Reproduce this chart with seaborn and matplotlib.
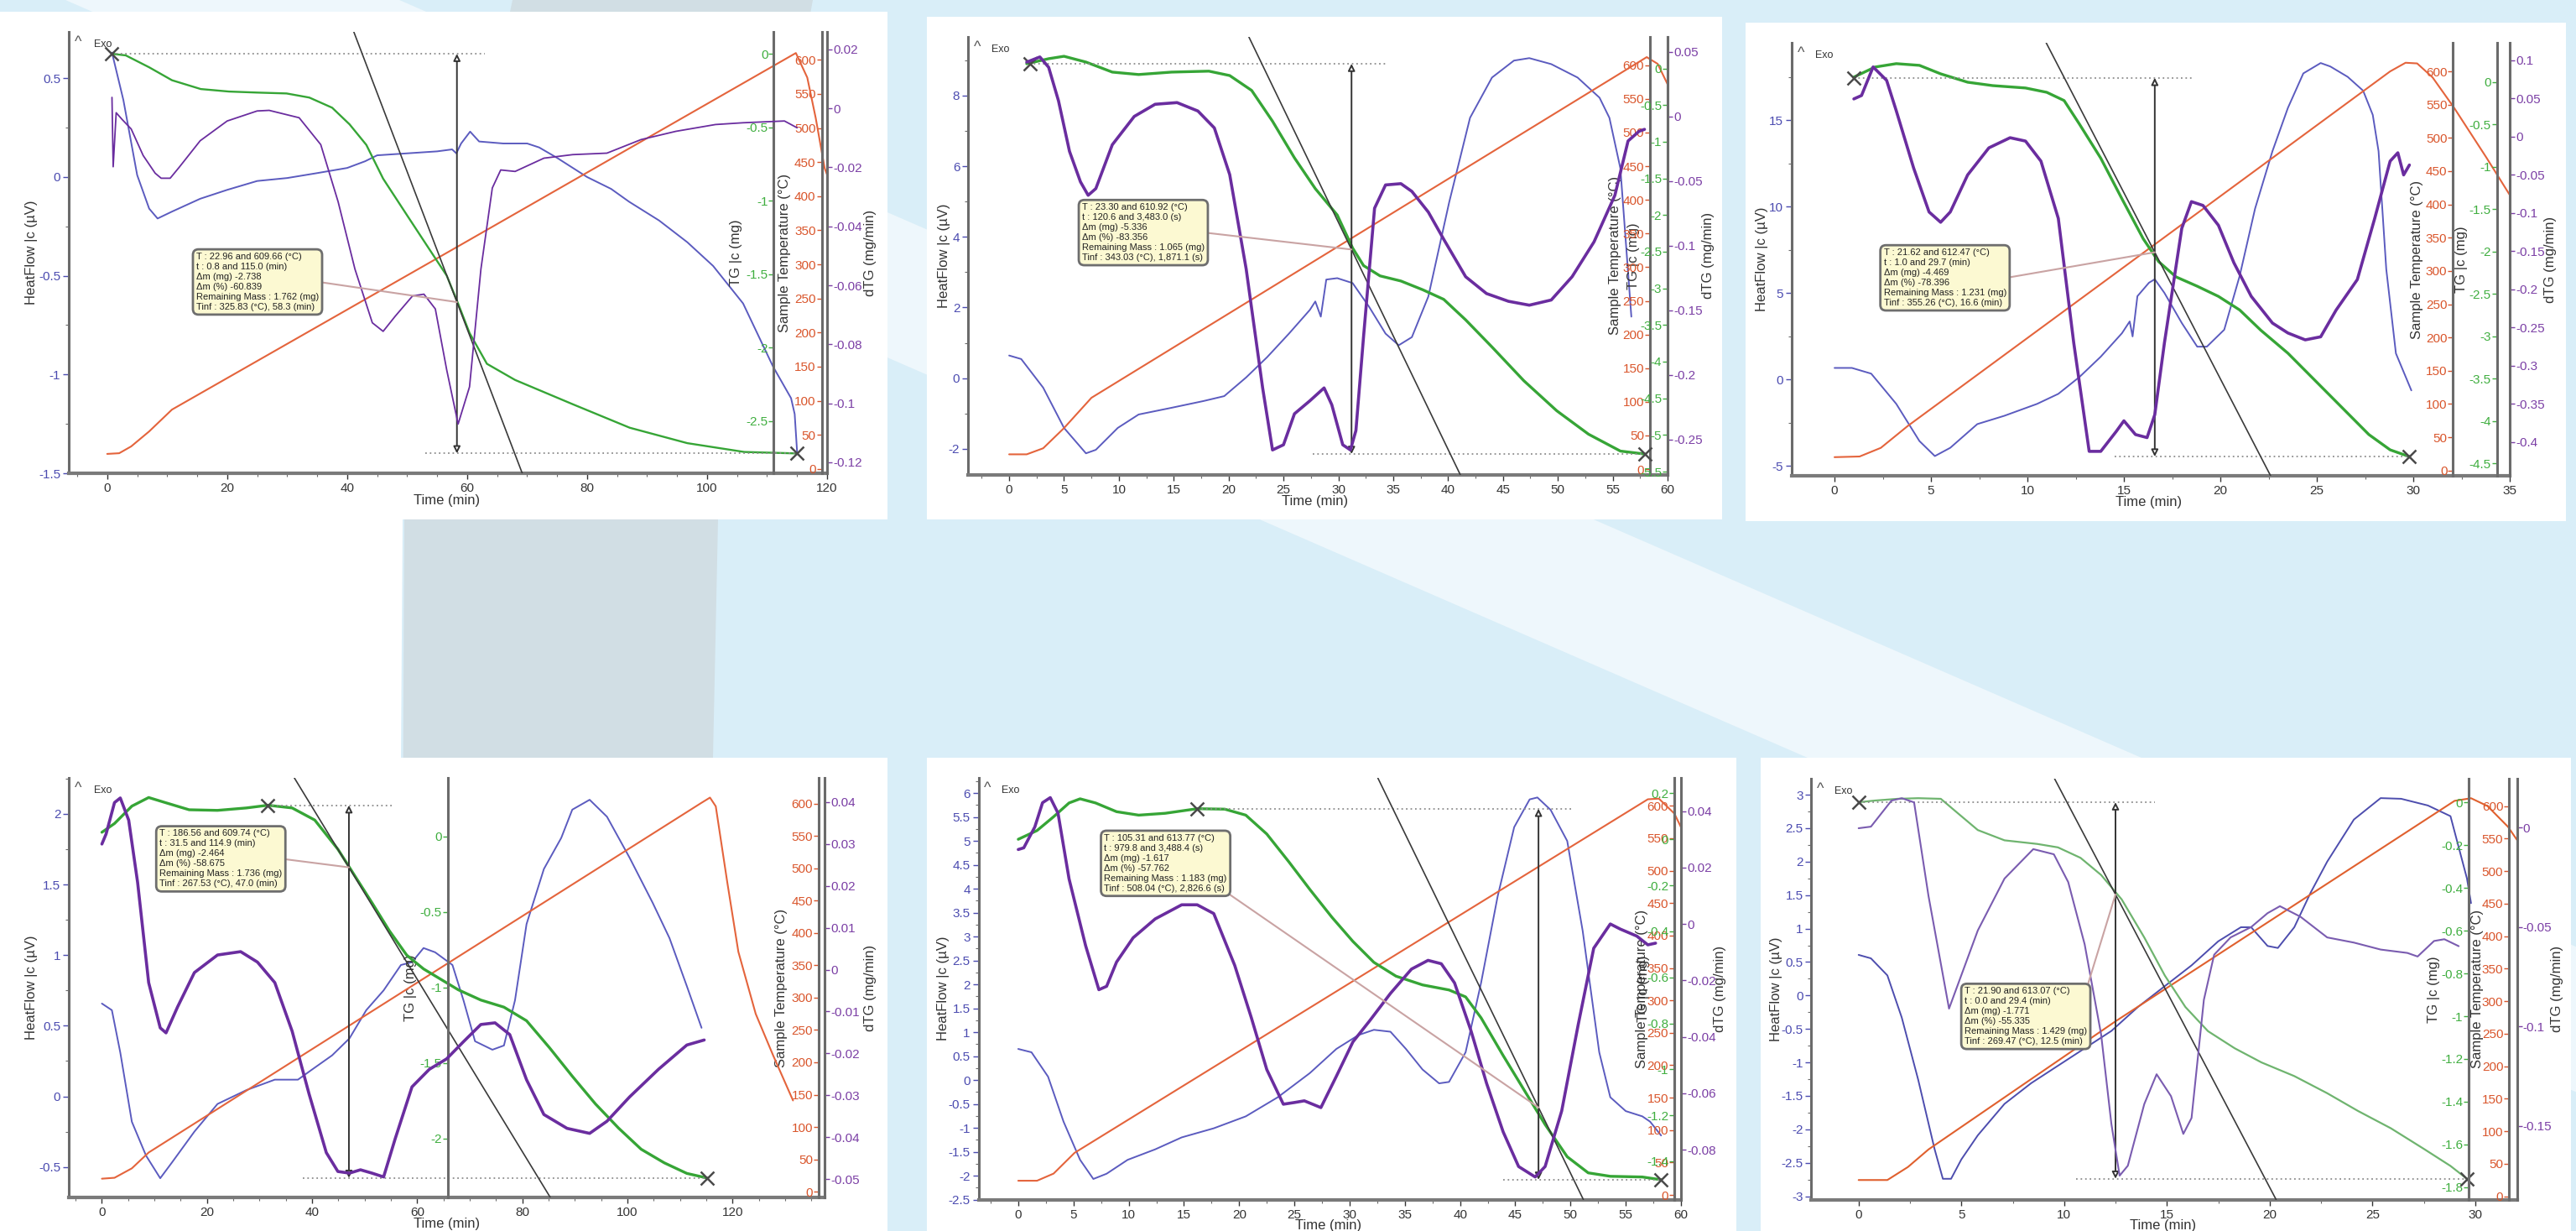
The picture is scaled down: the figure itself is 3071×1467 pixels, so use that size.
import numpy as np
import matplotlib.pyplot as plt
import seaborn as sns
from matplotlib.patches import Rectangle, Polygon
from matplotlib.ticker import AutoMinorLocator
from matplotlib.transforms import blended_transform_factory

sns.set_theme(style="white")
plt.rcParams['font.family'] = ['Liberation Sans', 'DejaVu Sans']
plt.rcParams['axes.unicode_minus'] = False

W, H = 3071, 1467

# ---------------------------------------------------------------------------
# Data: (time [min], value) pairs
# ---------------------------------------------------------------------------
temp_ticks = [0, 50, 100, 150, 200, 250, 300, 350, 400, 450, 500, 550, 600]

# panel 1
p1_heatflow = [(0.8, 0.63), (2.7, 0.39), (5, 0.01), (7, -0.16), (8.4, -0.21), (10.8, -0.175), (15.5, -0.11),
               (20, -0.065), (25, -0.02), (30, -0.005), (35, 0.02), (40, 0.046), (43, 0.08), (45, 0.11),
               (50, 0.12), (55, 0.13), (57.5, 0.14), (58.2, 0.12), (59, 0.17), (60.5, 0.23), (62, 0.18),
               (66, 0.17), (70, 0.17), (72, 0.15), (75, 0.097), (80, 0.0), (84, -0.06), (87, -0.125),
               (92, -0.22), (96.7, -0.33), (101, -0.45), (106, -0.64), (111, -0.96), (114, -1.12),
               (114.6, -1.2), (115, -1.39)]
p1_dtg = [(0.8, 0.0037), (1.0, -0.0198), (1.5, -0.0015), (2.5, -0.0038), (4, -0.007), (6, -0.016), (8, -0.022),
          (9, -0.0237), (10.5, -0.0237), (12, -0.02), (15.5, -0.011), (20, -0.0043), (25, -0.0009), (27, -0.0007),
          (32, -0.0032), (35.6, -0.0123), (38.5, -0.0317), (41.3, -0.0545), (44.2, -0.0727), (46, -0.0756),
          (48, -0.0705), (50.9, -0.0636), (52.8, -0.063), (54.7, -0.068), (56.6, -0.0887), (58.5, -0.107),
          (60.4, -0.0944), (62.3, -0.0545), (64.2, -0.027), (65.6, -0.0209), (68, -0.0214), (72.8, -0.0169),
          (77.6, -0.0157), (83.3, -0.0152), (89, -0.0106), (94.8, -0.0078), (101.4, -0.0055), (106, -0.0049),
          (112.9, -0.0043), (115, -0.0066)]
p1_tg = [(0.8, 0.0), (3.1, -0.011), (7, -0.092), (10.8, -0.18), (15.6, -0.24), (20.3, -0.257), (25, -0.264),
         (29.9, -0.27), (33.7, -0.298), (37.5, -0.367), (40.4, -0.48), (43.2, -0.62), (46, -0.85), (50, -1.10),
         (53.7, -1.33), (56.6, -1.51), (58.5, -1.70), (60.4, -1.90), (63.3, -2.11), (68, -2.22), (77.6, -2.385),
         (87.1, -2.545), (96.7, -2.65), (106.2, -2.71), (115, -2.72)]
p1_temp = [(0, 22), (2, 23), (4, 33), (7, 55), (10.8, 87), (60, 334), (114.8, 610), (116.7, 574), (118.1, 515),
           (119.6, 441), (120.5, 420)]
p1_box = ["T : 22.96 and 609.66 (°C)", "t : 0.8 and 115.0 (min)", "Δm (mg) -2.738", "Δm (%) -60.839",
          "Remaining Mass : 1.762 (mg)", "Tinf : 325.83 (°C), 58.3 (min)"]
p1_marks = [(0.8, 0.0), (115.0, -2.72)]
p1_guides = [(0.8, 63.0), (53.0, 115.0)]
p1_inflection = (58.3, -1.69, -0.107)
p1_hf_ticks = [-1.5, -1, -0.5, 0, 0.5]
p1_tg_ticks = [-2.5, -2, -1.5, -1, -0.5, 0]
p1_dtg_ticks = [-0.12, -0.1, -0.08, -0.06, -0.04, -0.02, 0, 0.02]
p1_time_ticks = [0, 20, 40, 60, 80, 100, 120]

# panel 2
p2_heatflow = [(0, 0.64), (1.1, 0.54), (3.1, -0.27), (5, -1.41), (7, -2.13), (7.9, -2.03), (9.9, -1.41),
               (11.8, -1.03), (14.8, -0.84), (17.7, -0.65), (19.6, -0.51), (21.6, 0.02), (23.5, 0.59),
               (25.5, 1.26), (27.4, 1.93), (27.9, 2.17), (28.4, 1.74), (28.9, 2.79), (29.9, 2.83), (31.3, 2.69),
               (32.8, 2.02), (34.3, 1.26), (35.5, 0.93), (36.7, 1.16), (38.2, 2.31), (40.1, 4.98), (42, 7.37),
               (44, 8.51), (46, 8.99), (47.4, 9.06), (49.4, 8.89), (51.8, 8.51), (53.8, 7.94), (54.7, 7.37),
               (55.7, 5.94), (56.7, 1.74)]
p2_dtg = [(1.6, 0.042), (2.8, 0.046), (3.6, 0.038), (4.5, 0.012), (5.5, -0.027), (6.5, -0.0506), (7.2, -0.061),
          (7.9, -0.0558), (9.4, -0.0219), (11.4, 0.0), (13.3, 0.0094), (15.3, 0.0107), (17.2, 0.0042),
          (18.7, -0.0089), (20.1, -0.045), (21.6, -0.118), (23.1, -0.21), (24, -0.258), (25, -0.254),
          (26, -0.23), (27.4, -0.22), (28.7, -0.21), (29.4, -0.223), (30.4, -0.254), (31.1, -0.258),
          (31.6, -0.243), (32.3, -0.17), (33.3, -0.071), (34.3, -0.053), (35.7, -0.052), (36.7, -0.058),
          (38.2, -0.074), (39.6, -0.095), (41.6, -0.124), (43.5, -0.137), (45.5, -0.143), (47.4, -0.146),
          (49.4, -0.142), (51.3, -0.124), (53.3, -0.097), (55.2, -0.061), (56.4, -0.019), (57.4, -0.0115),
          (57.9, -0.010)]
p2_tg = [(1.6, 0.064), (3.6, 0.133), (5, 0.166), (7, 0.087), (9.4, -0.05), (11.8, -0.083), (14.8, -0.05),
         (18.2, -0.037), (20.1, -0.097), (22.1, -0.30), (24, -0.72), (26, -1.22), (27.9, -1.64), (29.9, -2.0),
         (31.3, -2.45), (32.3, -2.69), (33.8, -2.83), (35.7, -2.90), (37.7, -3.02), (39.6, -3.15), (41.6, -3.43),
         (44, -3.80), (46.9, -4.26), (49.9, -4.67), (52.8, -4.99), (55.7, -5.22), (57.9, -5.26)]
p2_temp = [(0, 22), (1.6, 22), (3.1, 31), (5, 61), (7.5, 106), (58.1, 612), (59.1, 602), (60.2, 565)]
p2_box = ["T : 23.30 and 610.92 (°C)", "t : 120.6 and 3,483.0 (s)", "Δm (mg) -5.336", "Δm (%) -83.356",
          "Remaining Mass : 1.065 (mg)", "Tinf : 343.03 (°C), 1,871.1 (s)"]
p2_marks = [(1.9, 0.064), (57.9, -5.26)]
p2_guides = [(1.85, 34.5), (27.7, 57.9)]
p2_inflection = (31.2, -2.47, -0.31)
p2_hf_ticks = [-2, 0, 2, 4, 6, 8]
p2_tg_ticks = [-5.5, -5, -4.5, -4, -3.5, -3, -2.5, -2, -1.5, -1, -0.5, 0]
p2_dtg_ticks = [-0.25, -0.2, -0.15, -0.1, -0.05, 0, 0.05]
p2_time_ticks = [0, 5, 10, 15, 20, 25, 30, 35, 40, 45, 50, 55, 60]

# panel 3
p3_heatflow = [(0, 0.66), (0.9, 0.66), (1.9, 0.33), (3.2, -1.42), (4.4, -3.57), (5.2, -4.44), (6, -3.96),
               (7.4, -2.59), (8.8, -2.11), (10.5, -1.42), (11.6, -0.84), (12.7, 0.14), (13.8, 1.31), (14.9, 2.67),
               (15.3, 3.35), (15.45, 2.48), (15.7, 4.81), (16.3, 5.59), (16.6, 5.79), (17.1, 5.0), (18, 3.26),
               (18.8, 1.89), (19.3, 1.89), (20.2, 2.87), (21, 5.98), (21.8, 9.88), (22.7, 13.2), (23.5, 15.7),
               (24.3, 17.7), (25.2, 18.3), (25.7, 18.1), (26.6, 17.5), (27.4, 16.7), (27.9, 15.3), (28.2, 13.2),
               (28.6, 6.37), (29.1, 1.5), (29.9, -0.64)]
p3_dtg = [(1.0, 0.0495), (1.4, 0.054), (2.0, 0.0914), (2.7, 0.0738), (3.2, 0.034), (4.1, -0.041), (4.9, -0.0985),
          (5.5, -0.112), (6.0, -0.0985), (6.9, -0.050), (8.0, -0.0146), (9.1, -0.0013), (9.9, -0.0057),
          (10.7, -0.032), (11.6, -0.107), (12.4, -0.27), (13.2, -0.412), (13.8, -0.412), (14.6, -0.386),
          (15.0, -0.372), (15.6, -0.39), (16.2, -0.394), (16.6, -0.364), (17.1, -0.27), (18.0, -0.12),
          (18.5, -0.085), (19.1, -0.09), (19.9, -0.116), (20.7, -0.165), (21.6, -0.209), (22.7, -0.244),
          (23.5, -0.257), (24.4, -0.266), (25.2, -0.262), (26.0, -0.227), (27.1, -0.187), (28.0, -0.107),
          (28.8, -0.032), (29.2, -0.021), (29.5, -0.05), (29.8, -0.037)]
p3_tg = [(1.0, 0.056), (2.1, 0.175), (3.2, 0.215), (4.4, 0.195), (5.5, 0.095), (6.9, -0.004), (8.2, -0.044),
         (9.9, -0.072), (11.0, -0.123), (11.9, -0.22), (12.7, -0.50), (13.8, -0.90), (14.9, -1.38), (16.0, -1.85),
         (16.8, -2.12), (17.7, -2.30), (18.8, -2.41), (19.9, -2.53), (21.0, -2.69), (22.1, -2.93), (23.5, -3.2),
         (24.9, -3.52), (26.3, -3.84), (27.7, -4.16), (28.8, -4.34), (29.8, -4.42)]
p3_temp = [(0, 20), (1.3, 21), (2.4, 34), (3.8, 67), (28.8, 600), (29.6, 613), (30.2, 612), (31.0, 591),
           (32.1, 546), (33.8, 470), (35.2, 405)]
p3_box = ["T : 21.62 and 612.47 (°C)", "t : 1.0 and 29.7 (min)", "Δm (mg) -4.469", "Δm (%) -78.396",
          "Remaining Mass : 1.231 (mg)", "Tinf : 355.26 (°C), 16.6 (min)"]
p3_marks = [(1.0, 0.048), (29.8, -4.42)]
p3_guides = [(1.0, 18.5), (14.5, 29.8)]
p3_inflection = (16.6, -2.01, -0.439)
p3_hf_ticks = [-5, 0, 5, 10, 15]
p3_tg_ticks = [-4.5, -4, -3.5, -3, -2.5, -2, -1.5, -1, -0.5, 0]
p3_dtg_ticks = [-0.4, -0.35, -0.3, -0.25, -0.2, -0.15, -0.1, -0.05, 0, 0.05, 0.1]
p3_time_ticks = [0, 5, 10, 15, 20, 25, 30, 35]

# panel 4
p4_heatflow = [(0, 0.657), (1.9, 0.61), (3.5, 0.31), (5.7, -0.18), (8.4, -0.42), (11.1, -0.58), (13.3, -0.47),
               (17.6, -0.25), (22, -0.054), (27.5, 0.044), (32.9, 0.118), (37.3, 0.118), (40, 0.19),
               (43.8, 0.29), (47.1, 0.41), (50.3, 0.61), (53.6, 0.75), (56.9, 0.93), (59, 0.95), (61.2, 1.05),
               (63.4, 1.02), (66.7, 0.93), (68.8, 0.68), (71, 0.39), (74.3, 0.33), (76.5, 0.36), (78.6, 0.68),
               (80.8, 1.22), (84.1, 1.61), (87.4, 1.83), (89.5, 2.03), (92.8, 2.10), (96.1, 1.98), (100.4, 1.69),
               (104.8, 1.37), (108, 1.12), (111.3, 0.78), (114.1, 0.485)]
p4_dtg = [(0, 0.030), (0.8, 0.0324), (2.4, 0.0399), (3.5, 0.041), (5.1, 0.0357), (6.8, 0.0208), (8.9, -0.0031),
          (11.1, -0.0139), (12.2, -0.0151), (14.4, -0.0089), (17.6, -0.0007), (22, 0.0035), (26.4, 0.0043),
          (29.6, 0.0018), (32.9, -0.0031), (36.2, -0.0147), (39.4, -0.0296), (42.7, -0.0437), (44.9, -0.0482),
          (47.1, -0.0486), (49.2, -0.0478), (51.4, -0.0486), (53.6, -0.0495), (55.8, -0.0404), (59, -0.028),
          (62.3, -0.0238), (65.6, -0.0213), (68.8, -0.0172), (72.1, -0.0131), (74.8, -0.0127), (77.6, -0.0155),
          (80.8, -0.0263), (84.1, -0.0346), (88.5, -0.0379), (92.8, -0.0391), (96.1, -0.0362), (100.4, -0.0304),
          (105.9, -0.0238), (111.3, -0.018), (114.6, -0.0168)]
p4_tg = [(0, 0.027), (2.4, 0.085), (5.7, 0.2), (8.9, 0.257), (12.2, 0.222), (16.6, 0.176), (22, 0.172),
         (27.5, 0.188), (31.6, 0.206), (36.2, 0.188), (40.5, 0.108), (44.9, -0.085), (47.1, -0.205),
         (48.1, -0.26), (51.4, -0.44), (54.7, -0.625), (58, -0.786), (61.2, -0.877), (64.5, -0.946),
         (67.8, -1.015), (72.1, -1.083), (76.5, -1.13), (80.8, -1.22), (85.2, -1.40), (89.5, -1.587),
         (93.9, -1.77), (98.3, -1.93), (102.6, -2.07), (107, -2.16), (111.3, -2.23), (115.1, -2.26)]
p4_temp = [(0, 20), (2.4, 21.4), (5.7, 36), (8.9, 60.5), (114, 601), (115.7, 609.5), (116.8, 596), (119, 478),
           (121.1, 371), (124.4, 275), (127.7, 211), (131.5, 141)]
p4_box = ["T : 186.56 and 609.74 (°C)", "t : 31.5 and 114.9 (min)", "Δm (mg) -2.464", "Δm (%) -58.675",
          "Remaining Mass : 1.736 (mg)", "Tinf : 267.53 (°C), 47.0 (min)"]
p4_marks = [(31.6, 0.206), (115.1, -2.26)]
p4_guides = [(31.6, 55.2), (38.3, 115.1)]
p4_inflection = (47.0, -0.205, -0.057)
p4_hf_ticks = [-0.5, 0, 0.5, 1, 1.5, 2]
p4_tg_ticks = [-2, -1.5, -1, -0.5, 0]
p4_dtg_ticks = [-0.05, -0.04, -0.03, -0.02, -0.01, 0, 0.01, 0.02, 0.03, 0.04]
p4_time_ticks = [0, 20, 40, 60, 80, 100, 120]

# panel 5
p5_heatflow = [(0, 0.65), (1.2, 0.58), (2.7, 0.07), (4.1, -0.87), (5.6, -1.67), (6.8, -2.07), (8, -1.96),
               (9.9, -1.67), (12.4, -1.45), (14.8, -1.2), (17.7, -1.01), (20.6, -0.76), (23.5, -0.36),
               (26.4, 0.145), (28.8, 0.65), (30.8, 0.94), (32.2, 1.05), (33.7, 1.01), (35.1, 0.65), (36.6, 0.22),
               (38.1, -0.07), (39, -0.04), (40.5, 0.58), (41.9, 2.03), (43.4, 3.84), (44.9, 5.29), (46.3, 5.87),
               (47, 5.91), (48.2, 5.65), (49.7, 5.0), (51.1, 3.12), (52.6, 0.58), (53.6, -0.36), (55, -0.65),
               (56.5, -0.76), (57.2, -0.87), (58.2, -1.16)]
p5_dtg = [(0, 0.0264), (0.5, 0.027), (1.5, 0.0344), (2.2, 0.043), (2.9, 0.0448), (3.6, 0.0393), (4.6, 0.016),
          (6.1, -0.0077), (7.3, -0.0233), (8, -0.0221), (8.9, -0.0135), (10.4, -0.0049), (12.4, 0.0018),
          (14.8, 0.0068), (16.2, 0.0068), (17.7, 0.0037), (19.6, -0.0147), (21.1, -0.0332), (22.5, -0.0516),
          (24, -0.0639), (25, -0.0633), (25.9, -0.0627), (27.4, -0.0651), (28.8, -0.054), (30.3, -0.0418),
          (31.8, -0.0344), (33.7, -0.0246), (35.6, -0.016), (37.1, -0.0129), (38.3, -0.0141), (39.5, -0.0209),
          (41, -0.038), (42.4, -0.0565), (43.9, -0.0737), (45.3, -0.086), (46.8, -0.0897), (47.7, -0.086),
          (49.2, -0.0663), (50.7, -0.0356), (52.1, -0.0086), (53.6, 0.0), (54.5, -0.0018), (56, -0.0043),
          (57, -0.0074), (57.7, -0.0068)]
p5_tg = [(0, 0.0), (1.7, 0.038), (3.2, 0.098), (4.6, 0.158), (5.6, 0.176), (7, 0.158), (8.9, 0.12),
         (10.9, 0.105), (13.3, 0.113), (16.2, 0.133), (18.7, 0.131), (20.6, 0.105), (22.5, 0.023),
         (24.5, -0.098), (26.4, -0.218), (28.4, -0.339), (30.3, -0.444), (32.2, -0.535), (34.2, -0.595),
         (36.6, -0.633), (39, -0.655), (40.5, -0.685), (41.9, -0.776), (43.9, -0.94), (45.8, -1.09),
         (47.7, -1.24), (49.7, -1.38), (51.6, -1.45), (53.6, -1.465), (56.5, -1.468), (58.2, -1.48)]
p5_temp = [(0, 22), (1.7, 22), (3.2, 33), (5.1, 65), (57, 610), (58, 611), (59.4, 588), (60.2, 560)]
p5_box = ["T : 105.31 and 613.77 (°C)", "t : 979.8 and 3,488.4 (s)", "Δm (mg) -1.617", "Δm (%) -57.762",
          "Remaining Mass : 1.183 (mg)", "Tinf : 508.04 (°C), 2,826.6 (s)"]
p5_marks = [(16.2, 0.133), (58.2, -1.48)]
p5_guides = [(16.2, 50.2), (43.9, 58.2)]
p5_inflection = (47.1, -1.166, -0.0985)
p5_hf_ticks = [-2.5, -2, -1.5, -1, -0.5, 0, 0.5, 1, 1.5, 2, 2.5, 3, 3.5, 4, 4.5, 5, 5.5, 6]
p5_tg_ticks = [-1.4, -1.2, -1, -0.8, -0.6, -0.4, -0.2, 0, 0.2]
p5_dtg_ticks = [-0.08, -0.06, -0.04, -0.02, 0, 0.02, 0.04]
p5_time_ticks = [0, 5, 10, 15, 20, 25, 30, 35, 40, 45, 50, 55, 60]

# panel 6
p6_heatflow = [(0, 0.607), (0.6, 0.555), (1.4, 0.30), (2.1, -0.33), (2.9, -1.26), (3.7, -2.30), (4.1, -2.74),
               (4.5, -2.74), (5, -2.45), (5.8, -2.09), (7.1, -1.62), (8.4, -1.31), (9.7, -1.05), (11, -0.79),
               (12.3, -0.53), (13.6, -0.17), (14.9, 0.14), (16.2, 0.45), (17.5, 0.81), (18.6, 1.02), (19.1, 1.02),
               (19.9, 0.74), (20.4, 0.71), (21.2, 1.02), (22, 1.54), (22.8, 2.0), (24.1, 2.63), (25.4, 2.95),
               (26.4, 2.94), (27.7, 2.84), (28.8, 2.68), (29.6, 1.75), (29.8, 1.38)]
p6_dtg = [(0, -0.0003), (0.6, 0.0005), (1.6, 0.0136), (2.1, 0.0148), (2.7, 0.0127), (3.4, -0.0343),
          (4.4, -0.091), (5.8, -0.0517), (7.1, -0.0256), (8.5, -0.0108), (9.5, -0.0134), (10.2, -0.0274),
          (11, -0.0587), (11.8, -0.104), (12.3, -0.149), (12.7, -0.175), (13.1, -0.170), (13.9, -0.139),
          (14.5, -0.124), (15.2, -0.135), (15.8, -0.154), (16.2, -0.146), (16.8, -0.0866), (17.3, -0.0639),
          (18.1, -0.0552), (19.1, -0.05), (19.9, -0.043), (20.5, -0.0395), (21.5, -0.0448), (22.8, -0.0552),
          (24.1, -0.0578), (25.4, -0.0613), (26.7, -0.063), (27.2, -0.0648), (28, -0.057), (28.5, -0.0561),
          (29.2, -0.0596)]
p6_tg = [(0, 0.0), (0.8, 0.008), (1.9, 0.016), (2.9, 0.019), (4, 0.016), (4.8, -0.049), (5.8, -0.13),
         (7.1, -0.178), (8.7, -0.195), (9.7, -0.211), (10.8, -0.26), (11.8, -0.34), (12.8, -0.454),
         (13.9, -0.632), (14.9, -0.81), (15.9, -0.957), (17, -1.07), (18.3, -1.15), (19.6, -1.216),
         (21.2, -1.28), (22.8, -1.36), (24.3, -1.443), (25.9, -1.524), (27.5, -1.62), (28.8, -1.70), (29.6, -1.76)]
p6_temp = [(0, 25), (1.4, 25), (2.4, 45), (3.4, 72), (12.5, 269), (29, 608), (29.8, 612), (30.6, 600),
           (31.6, 568), (32.1, 545)]
p6_box = ["T : 21.90 and 613.07 (°C)", "t : 0.0 and 29.4 (min)", "Δm (mg) -1.771", "Δm (%) -55.335",
          "Remaining Mass : 1.429 (mg)", "Tinf : 269.47 (°C), 12.5 (min)"]
p6_marks = [(0.0, 0.0), (29.6, -1.76)]
p6_guides = [(0.0, 14.4), (10.6, 29.6)]
p6_inflection = (12.5, -0.431, -0.1825)
p6_hf_ticks = [-3, -2.5, -2, -1.5, -1, -0.5, 0, 0.5, 1, 1.5, 2, 2.5, 3]
p6_tg_ticks = [-1.8, -1.6, -1.4, -1.2, -1, -0.8, -0.6, -0.4, -0.2, 0]
p6_dtg_ticks = [-0.15, -0.1, -0.05, 0]
p6_time_ticks = [0, 5, 10, 15, 20, 25, 30]

# ---------------------------------------------------------------------------
# Styling / layout (pixels of the 3071 x 1467 canvas)
# ---------------------------------------------------------------------------
SPINE = '#6b6b6b'
TICK_COL = dict(hf='#4b4bb0', tg='#3fae3f', temp='#d9552b', dtg='#7b3fa5')
LINE_COL = dict(hf='#5b5bbf', dtg='#6a2d9f', tg='#36a536', temp='#e4643c')
LINE_COL6 = dict(hf='#4d4dae', dtg='#7a5cb0', tg='#6fb46f', temp='#e0602e')

PANELS = [
    dict(white=(0, 14, 1058, 619), axes=(82, 38, 986, 564), xlim=(-6.4, 120),
         hf=p1_heatflow, dtg=p1_dtg, tg=p1_tg, temp=p1_temp,
         hf_lim=(-1.5, 0.735), temp_lim=(-6.4, 641), tg_lim=(-2.855, 0.149), dtg_lim=(-0.1237, 0.0259),
         hf_ticks=p1_hf_ticks, tg_ticks=p1_tg_ticks, dtg_ticks=p1_dtg_ticks, time_ticks=p1_time_ticks, minor=4,
         tg_sp=(111.1, 'left'), temp_sp=(119.1, 'left'), dtg_sp=(120, 'right'),
         lab=dict(hf=-12.6, tg=104.8, temp=112.9, dtg=127.2, time=56.6),
         box=p1_box, box_xy=(0.168, 0.50), relpos=(1, 0.5),
         marks=p1_marks, guides=p1_guides, infl=p1_inflection,
         lw=dict(hf=1.4, dtg=1.3, tg=1.7, temp=1.5), col=LINE_COL),
    dict(white=(1105, 20, 2053, 619), axes=(1154, 44, 1988, 565.5), xlim=(-3.75, 60),
         hf=p2_heatflow, dtg=p2_dtg, tg=p2_tg, temp=p2_temp,
         hf_lim=(-2.73, 9.66), temp_lim=(-8, 642), tg_lim=(-5.54, 0.43), dtg_lim=(-0.277, 0.0615),
         hf_ticks=p2_hf_ticks, tg_ticks=p2_tg_ticks, dtg_ticks=p2_dtg_ticks, time_ticks=p2_time_ticks, minor=2,
         tg_sp=(60, 'left'), temp_sp=(58.4, 'left'), dtg_sp=(60, 'right'),
         lab=dict(hf=-5.9, tg=56.9, temp=55.2, dtg=63.7, time=27.9),
         box=p2_box, box_xy=(0.163, 0.62), relpos=(1, 0.5),
         marks=p2_marks, guides=p2_guides, infl=p2_inflection,
         lw=dict(hf=1.4, dtg=2.6, tg=2.4, temp=1.5), col=LINE_COL),
    dict(white=(2081, 27, 3059, 621), axes=(2136, 51, 2992, 567), xlim=(-2.22, 35),
         hf=p3_heatflow, dtg=p3_dtg, tg=p3_tg, temp=p3_temp,
         hf_lim=(-5.58, 19.47), temp_lim=(-8, 643), tg_lim=(-4.646, 0.461), dtg_lim=(-0.444, 0.123),
         hf_ticks=p3_hf_ticks, tg_ticks=p3_tg_ticks, dtg_ticks=p3_dtg_ticks, time_ticks=p3_time_ticks, minor=2,
         tg_sp=(34.33, 'left'), temp_sp=(32.06, 'left'), dtg_sp=(35, 'right'),
         lab=dict(hf=-3.75, tg=32.5, temp=30.2, dtg=37.1, time=16.3),
         box=p3_box, box_xy=(0.128, 0.525), relpos=(1, 0.5),
         marks=p3_marks, guides=p3_guides, infl=p3_inflection,
         lw=dict(hf=1.4, dtg=2.6, tg=2.4, temp=1.5), col=LINE_COL),
    dict(white=(0, 903, 1058, 1467), axes=(82, 927, 983, 1427), xlim=(-6.3, 137.5),
         hf=p4_heatflow, dtg=p4_dtg, tg=p4_tg, temp=p4_temp,
         hf_lim=(-0.716, 2.255), temp_lim=(-9, 640), tg_lim=(-2.389, 0.387), dtg_lim=(-0.0544, 0.0458),
         hf_ticks=p4_hf_ticks, tg_ticks=p4_tg_ticks, dtg_ticks=p4_dtg_ticks, time_ticks=p4_time_ticks, minor=4,
         tg_sp=(65.8, 'left'), temp_sp=(136.4, 'left'), dtg_sp=(137.5, 'right'),
         lab=dict(hf=-13.4, tg=58.8, temp=129.3, dtg=146.2, time=65.6),
         box=p4_box, box_xy=(0.12, 0.877), relpos=(1, 0.5),
         marks=p4_marks, guides=p4_guides, infl=p4_inflection,
         lw=dict(hf=1.4, dtg=2.6, tg=2.4, temp=1.5), col=LINE_COL),
    dict(white=(1105, 903, 2070, 1467), axes=(1166.5, 927, 2004, 1429.5), xlim=(-3.6, 60),
         hf=p5_heatflow, dtg=p5_dtg, tg=p5_tg, temp=p5_temp,
         hf_lim=(-2.5, 6.32), temp_lim=(-7, 643), tg_lim=(-1.566, 0.267), dtg_lim=(-0.0977, 0.0518),
         hf_ticks=p5_hf_ticks, tg_ticks=p5_tg_ticks, dtg_ticks=p5_dtg_ticks, time_ticks=p5_time_ticks, minor=2,
         tg_sp=(59.4, 'left'), temp_sp=(59.4, 'left'), dtg_sp=(60, 'right'),
         lab=dict(hf=-6.8, tg=56.6, temp=56.5, dtg=63.5, time=28.1),
         box=p5_box, box_xy=(0.179, 0.867), relpos=(1, 0),
         marks=p5_marks, guides=p5_guides, infl=p5_inflection,
         lw=dict(hf=1.4, dtg=2.6, tg=2.4, temp=1.5), col=LINE_COL),
    dict(white=(2099, 903, 3065, 1467), axes=(2159.4, 928, 3001, 1429.5), xlim=(-2.3, 32.05),
         hf=p6_heatflow, dtg=p6_dtg, tg=p6_tg, temp=p6_temp,
         hf_lim=(-3.05, 3.24), temp_lim=(-5, 642), tg_lim=(-1.857, 0.11), dtg_lim=(-0.187, 0.0246),
         hf_ticks=p6_hf_ticks, tg_ticks=p6_tg_ticks, dtg_ticks=p6_dtg_ticks, time_ticks=p6_time_ticks, minor=2,
         tg_sp=(29.69, 'left'), temp_sp=(31.65, 'left'), dtg_sp=(32.04, 'right'),
         lab=dict(hf=-4.0, tg=28.0, temp=30.1, dtg=34.0, time=14.8),
         box=p6_box, box_xy=(0.217, 0.505), relpos=(1, 1),
         marks=p6_marks, guides=p6_guides, infl=p6_inflection,
         lw=dict(hf=1.4, dtg=1.5, tg=1.6, temp=1.5), col=LINE_COL6),
]


def fmt(v):
    return '0' if v == 0 else f'{v:g}'


def curve(ax, pts, color, lw):
    t = np.array([p[0] for p in pts], dtype=float)
    v = np.array([p[1] for p in pts], dtype=float)
    sns.lineplot(x=t, y=v, ax=ax, color=color, linewidth=lw, sort=False, estimator=None)
    ax.set_xlabel('')
    ax.set_ylabel('')


def side_axis(twin, lim, ticks, spine, color):
    pos, side = spine
    twin.set_ylim(*lim)
    for s in twin.spines.values():
        s.set_visible(False)
    sp = twin.spines[side]
    sp.set_visible(True)
    sp.set_position(('data', pos))
    sp.set_color(SPINE)
    sp.set_linewidth(2.2)
    if side == 'left':
        twin.yaxis.tick_left()
    else:
        twin.yaxis.tick_right()
    twin.set_yticks(ticks)
    twin.set_yticklabels([fmt(v) for v in ticks])
    twin.tick_params(axis='y', which='major', colors=color, labelsize=11, length=4, width=1, pad=1)


def draw_panel(fig, P):
    x0, y0, x1, y1 = P['white']
    fig.add_artist(Rectangle((x0 / W, 1 - y1 / H), (x1 - x0) / W, (y1 - y0) / H,
                             transform=fig.transFigure, fc='white', ec='none', zorder=-2))
    l, t, r, b = P['axes']
    ax = fig.add_axes([l / W, 1 - b / H, (r - l) / W, (b - t) / H])
    ax.set_facecolor('none')
    ax_t = ax.twinx()
    ax_g = ax.twinx()
    ax_d = ax.twinx()
    col = P['col']

    curve(ax, P['hf'], col['hf'], P['lw']['hf'])
    curve(ax_t, P['temp'], col['temp'], P['lw']['temp'])
    curve(ax_g, P['tg'], col['tg'], P['lw']['tg'])
    curve(ax_d, P['dtg'], col['dtg'], P['lw']['dtg'])

    # main heat-flow axis
    ax.set_xlim(*P['xlim'])
    ax.set_ylim(*P['hf_lim'])
    for s in ('top', 'right'):
        ax.spines[s].set_visible(False)
    ax.spines['left'].set_color(SPINE)
    ax.spines['left'].set_linewidth(2.2)
    ax.spines['bottom'].set_color('#7a7a7a')
    ax.spines['bottom'].set_linewidth(3)
    ax.set_yticks(P['hf_ticks'])
    ax.set_yticklabels([fmt(v) for v in P['hf_ticks']])
    ax.set_xticks(P['time_ticks'])
    ax.set_xticklabels([fmt(v) for v in P['time_ticks']])
    ax.xaxis.set_minor_locator(AutoMinorLocator(P['minor']))
    ax.yaxis.set_minor_locator(AutoMinorLocator(2))
    ax.tick_params(axis='y', which='major', colors=TICK_COL['hf'], labelsize=11, length=5, width=1, pad=2,
                   left=True)
    ax.tick_params(axis='y', which='minor', colors=SPINE, length=3, width=0.8, left=True)
    ax.tick_params(axis='x', which='major', colors='#333333', labelsize=11, length=5, width=1, pad=3,
                   bottom=True)
    ax.tick_params(axis='x', which='minor', colors=SPINE, length=3, width=0.8, bottom=True)
    ax.grid(False)

    side_axis(ax_t, P['temp_lim'], temp_ticks, P['temp_sp'], TICK_COL['temp'])
    side_axis(ax_g, P['tg_lim'], P['tg_ticks'], P['tg_sp'], TICK_COL['tg'])
    side_axis(ax_d, P['dtg_lim'], P['dtg_ticks'], P['dtg_sp'], TICK_COL['dtg'])
    for a in (ax_t, ax_g, ax_d):
        a.set_xlim(*P['xlim'])
        a.grid(False)

    # axis titles
    tr = blended_transform_factory(ax.transData, ax.transAxes)
    lab = P['lab']
    kw = dict(transform=tr, rotation=90, ha='center', va='center', fontsize=12, color='#333333')
    ax.text(lab['hf'], 0.5, 'HeatFlow |c (µV)', **kw)
    ax.text(lab['tg'], 0.5, 'TG |c (mg)', **kw)
    ax.text(lab['temp'], 0.5, 'Sample Temperature (°C)', **kw)
    ax.text(lab['dtg'], 0.5, 'dTG (mg/min)', **kw)
    ax.text(lab['time'], -0.062, 'Time (min)', transform=tr, ha='center', va='center', fontsize=12,
            color='#333333')
    ax.text(0.008, 0.992, '^', transform=ax.transAxes, ha='left', va='top', fontsize=13, color='#555555')
    ax.text(0.033, 0.982, 'Exo', transform=ax.transAxes, ha='left', va='top', fontsize=9, color='#333333')

    # mass-loss step: guides, markers, tangent, double arrow, result box
    (ta, ga), (tb, gb) = P['marks']
    (g0, g1), (g2, g3) = P['guides']
    ax_g.plot([g0, g1], [ga, ga], ls=(0, (1, 2)), color='#8c8c8c', lw=1.3)
    ax_g.plot([g2, g3], [gb, gb], ls=(0, (1, 2)), color='#8c8c8c', lw=1.3)
    ax_g.plot([ta, tb], [ga, gb], ls='none', marker='x', ms=12, mew=1.8, color='#4a4a4a')
    t_inf, g_inf, slope = P['infl']
    ax_g.axline((t_inf, g_inf), slope=slope, color='#3a3a3a', lw=1.2)
    ax_g.annotate('', xy=(t_inf, gb), xytext=(t_inf, ga),
                  arrowprops=dict(arrowstyle='<|-|>', fc='white', ec='#333333', lw=1.4, mutation_scale=12,
                                  shrinkA=0, shrinkB=0))
    ax_d.annotate('\n'.join(P['box']), xy=(t_inf, g_inf), xycoords=ax_g.transData,
                  xytext=P['box_xy'], textcoords='axes fraction', ha='left', va='top',
                  fontsize=8, color='#222222', linespacing=1.25, annotation_clip=False,
                  bbox=dict(boxstyle='round,pad=0.35,rounding_size=0.6', fc='#fcf9d2', ec='#6e6e6e', lw=2),
                  arrowprops=dict(arrowstyle='-', color='#c9a3a3', lw=1.5, relpos=P['relpos'],
                                  shrinkA=0, shrinkB=0),
                  zorder=20)


fig = plt.figure(figsize=(W / 100, H / 100), dpi=100, facecolor='#d9eef8')


def fig_poly(pts, color, z):
    fig.add_artist(Polygon([(x / W, 1 - y / H) for x, y in pts], closed=True, transform=fig.transFigure,
                           fc=color, ec='none', zorder=z))


# background decoration
fig_poly([(78, 0), (476, 0), (3850, 1467), (3452, 1467)], '#eef7fc', -5)
fig_poly([(611, 0), (969, 0), (856, 619), (838, 1467), (478, 1467), (482, 619)], '#d1dee4', -4)
fig_poly([(0, 619), (480, 619), (478, 903), (0, 903)], 'white', -4)

for P in PANELS:
    draw_panel(fig, P)

fig.savefig('out.png', dpi=100, facecolor=fig.get_facecolor())
